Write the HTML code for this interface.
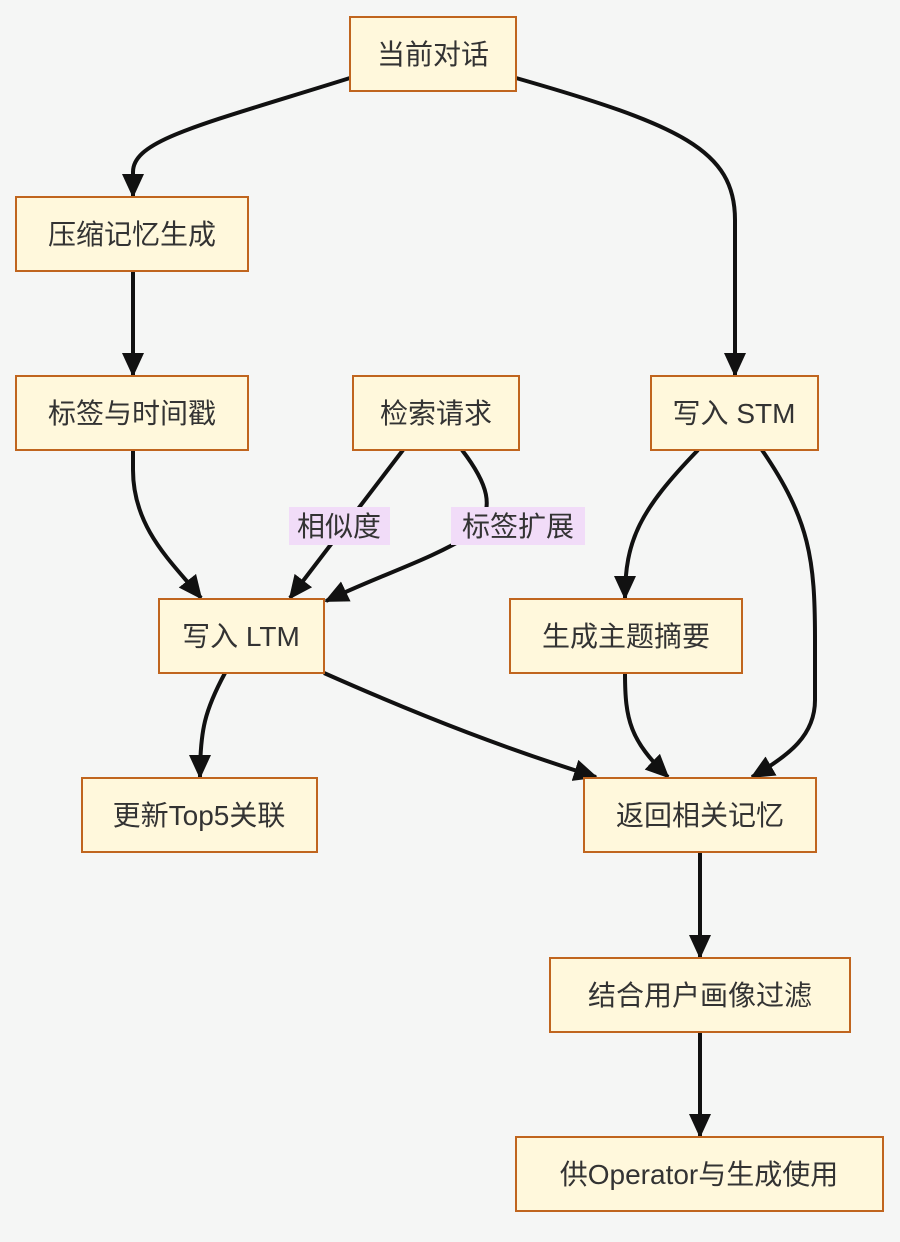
<!DOCTYPE html>
<html><head><meta charset="utf-8"><style>
html,body{margin:0;padding:0;background:#f5f6f5;}
svg{display:block}
text{font-family:"Liberation Sans","Noto Sans CJK SC",sans-serif;font-size:28px;fill:#333;}
.b{fill:#fff8dc;stroke:#c0651e;stroke-width:2;}
.e{fill:none;stroke:#111;stroke-width:4;marker-end:url(#a);}
.l{fill:#f1dcf8;}
</style></head><body>
<svg width="900" height="1242" viewBox="0 0 900 1242" xmlns="http://www.w3.org/2000/svg">
<defs><marker id="a" markerUnits="userSpaceOnUse" markerWidth="24" markerHeight="24" viewBox="0 0 24 24" refX="22" refY="12" orient="auto"><path d="M0,1 L24,12 L0,23 Z" fill="#111"/></marker></defs>
<rect x="0" y="0" width="900" height="1242" fill="#f5f6f5"/>
<path class="e" d="M350,78 C200,125 133,140 133,172 L133,196"/>
<path class="e" d="M516,78 C680,125 735,150 735,220 L735,375"/>
<path class="e" d="M133,271 L133,375"/>
<path class="e" d="M133,450 L133,470 C133,530 175,565 201,598"/>
<path class="e" d="M403,450 L290,598"/>
<path class="e" d="M462,450 C485,480 500,510 470,535 C430,560 380,575 326,601"/>
<path class="e" d="M698,450 C640,510 625,540 625,598"/>
<path class="e" d="M762,450 C810,520 815,560 815,640 L815,700 C815,735 790,755 752,777"/>
<path class="e" d="M225,673 C205,710 200,730 200,777"/>
<path class="e" d="M324,673 C430,720 510,750 596,777"/>
<path class="e" d="M625,673 C625,720 630,740 668,777"/>
<path class="e" d="M700,852 L700,957"/>
<path class="e" d="M700,1032 L700,1136"/>
<rect class="l" x="289" y="507" width="101" height="38"/><text x="339" y="536" text-anchor="middle">相似度</text>
<rect class="l" x="451" y="507" width="134" height="38"/><text x="518" y="536" text-anchor="middle">标签扩展</text>
<rect class="b" x="350" y="17" width="166" height="74"/><text x="433" y="64" text-anchor="middle">当前对话</text>
<rect class="b" x="16" y="197" width="232" height="74"/><text x="132" y="244" text-anchor="middle">压缩记忆生成</text>
<rect class="b" x="16" y="376" width="232" height="74"/><text x="132" y="423" text-anchor="middle">标签与时间戳</text>
<rect class="b" x="353" y="376" width="166" height="74"/><text x="436" y="423" text-anchor="middle">检索请求</text>
<rect class="b" x="651" y="376" width="167" height="74"/><text x="734" y="423" text-anchor="middle">写入 STM</text>
<rect class="b" x="159" y="599" width="165" height="74"/><text x="241" y="646" text-anchor="middle">写入 LTM</text>
<rect class="b" x="510" y="599" width="232" height="74"/><text x="626" y="646" text-anchor="middle">生成主题摘要</text>
<rect class="b" x="82" y="778" width="235" height="74"/><text x="199" y="825" text-anchor="middle">更新Top5关联</text>
<rect class="b" x="584" y="778" width="232" height="74"/><text x="700" y="825" text-anchor="middle">返回相关记忆</text>
<rect class="b" x="550" y="958" width="300" height="74"/><text x="700" y="1005" text-anchor="middle">结合用户画像过滤</text>
<rect class="b" x="516" y="1137" width="367" height="74"/><text x="699" y="1184" text-anchor="middle">供Operator与生成使用</text>
</svg>
</body></html>
